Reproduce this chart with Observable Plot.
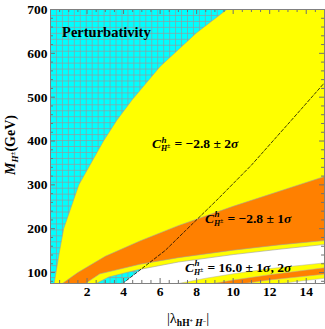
<!DOCTYPE html>
<html><head><meta charset="utf-8">
<script src="https://cdn.jsdelivr.net/npm/d3@7"></script>
<script src="https://cdn.jsdelivr.net/npm/@observablehq/plot@0.6"></script>
<style>body{margin:0;background:#fff}</style>
</head><body><div id="chart"></div>
<script>
// Boundary curves, as [|lambda|, M_H± (GeV)]
const dashedLine   = [[3.95,75],[5,109],[6.27,150],[7.4,196],[9.1,265],[11,345],[13.2,448],[15,533]];
const band2s_upper = [[0.2,75],[0.5,150],[0.72,200],[1.55,300],[2.9,400],[3.64,448],[4.47,494],[6.0,570],[8.0,647],[9.65,700]];
const band2s_lower = [[2.5,75],[3.2,90],[4.74,106],[7,124],[10,141],[12.5,153],[15,164]];
const band1s_upper = [[0.65,75],[1.5,100],[3,137],[4.9,172],[7,207],[10,251],[15,319]];
const band1s_lower = [[1.9,75],[2.7,97],[4.9,119],[7,134],[10,151],[12.5,163],[15,173]];
const c16_2s_upper = [[7.0,75],[8.5,87],[10,97],[12,109],[15,122]];
const c16_2s_lower = [[12.6,75],[15,87]];
const c16_1s_upper = [[8.9,75],[10,83],[12,95],[15,111]];
const c16_1s_lower = [[10.6,75],[12,83],[15,96]];

const xDomain = [0, 15];
const yDomain = [75, 700];
const xTicks = [2, 4, 6, 8, 10, 12, 14];
const yTicks = [100, 200, 300, 400, 500, 600, 700];

// label anchors [x, y] and texts
const labelPert = [0.66, 636];
const cLabels = [
  {pos: [5.58, 382], value: "\u22122.8", sig: ["2"]},
  {pos: [8.48, 212], value: "\u22122.8", sig: ["1"]},
  {pos: [7.39, 101], value: "16.0", sig: ["1", "2"]}
];

const CYAN = "#00ffff", YELLOW = "#ffff00", ORANGE = "#ff8000";

const poly = (...parts) => parts.flat();
const rev = a => a.slice().reverse();
const whitePoly  = poly(dashedLine, [[xDomain[1], yDomain[0]]]);
const yellowPoly = poly(band2s_upper, [[xDomain[1], yDomain[1]]], rev(band2s_lower));
const orangePoly = poly(band1s_upper, rev(band1s_lower));
const y16Poly = poly(c16_2s_upper, rev(c16_2s_lower));
const o16Poly = poly(c16_1s_upper, rev(c16_1s_lower));

const meshX = d3.range(1, 46).map(i => xDomain[0] + i * (xDomain[1] - xDomain[0]) / 46);
const meshY = d3.range(1, 46).map(i => yDomain[0] + i * (yDomain[1] - yDomain[0]) / 46);
const xMinor = d3.range(0.5, 15, 0.5).filter(v => v % 2 !== 0);
const yMinor = d3.range(80, 700, 20).filter(v => v % 100 !== 0);

const P = {x: d => d[0], y: d => d[1], clip: true};
const tickCol = "#707070";
const xl = 0.27, xs = 0.16, yl = 11.4, ys = 6.9;

const chart = Plot.plot({
  width: 325, height: 329,
  marginLeft: 50, marginRight: 1, marginTop: 9, marginBottom: 46,
  x: {domain: xDomain, ticks: xTicks, tickSize: 0, tickPadding: 3, label: null},
  y: {domain: yDomain, ticks: yTicks, tickSize: 0, tickPadding: 3, label: null},
  style: {fontFamily: "'Liberation Serif', serif", fontWeight: "bold", fontSize: "13.5px", color: "black", background: "white", overflow: "visible"},
  marks: [
    Plot.frame({fill: CYAN, stroke: "none"}),
    Plot.ruleX(meshX, {stroke: "#9a9a9a", strokeWidth: 0.7}),
    Plot.ruleY(meshY, {stroke: "#9a9a9a", strokeWidth: 0.7}),
    Plot.line(whitePoly, {...P, fill: "white", stroke: "none"}),
    Plot.line(yellowPoly, {...P, fill: YELLOW, stroke: "#a0a0a0", strokeWidth: 0.6}),
    Plot.line(orangePoly, {...P, fill: ORANGE, stroke: "#a0a0a0", strokeWidth: 0.6}),
    Plot.line(y16Poly, {...P, fill: YELLOW, stroke: "#b0b0b0", strokeWidth: 0.5}),
    Plot.line(o16Poly, {...P, fill: ORANGE, stroke: "#b0b0b0", strokeWidth: 0.5}),
    Plot.line(dashedLine, {...P, stroke: "black", strokeWidth: 0.75, strokeDasharray: "3,2"}),
    // frame ticks
    Plot.ruleX(xTicks, {x: d => d, y1: yDomain[0], y2: yDomain[0] + yl, stroke: tickCol}),
    Plot.ruleX(xMinor, {x: d => d, y1: yDomain[0], y2: yDomain[0] + ys, stroke: tickCol}),
    Plot.ruleX(xTicks, {x: d => d, y1: yDomain[1], y2: yDomain[1] - yl, stroke: tickCol}),
    Plot.ruleX(xMinor, {x: d => d, y1: yDomain[1], y2: yDomain[1] - ys, stroke: tickCol}),
    Plot.ruleY(yTicks, {y: d => d, x1: xDomain[0], x2: xDomain[0] + xl, stroke: tickCol}),
    Plot.ruleY(yMinor, {y: d => d, x1: xDomain[0], x2: xDomain[0] + xs, stroke: tickCol}),
    Plot.ruleY(yTicks, {y: d => d, x1: xDomain[1], x2: xDomain[1] - xl, stroke: tickCol}),
    Plot.ruleY(yMinor, {y: d => d, x1: xDomain[1], x2: xDomain[1] - xs, stroke: tickCol}),
    Plot.frame({stroke: "#808080", strokeWidth: 1})
  ]
});

const sx = chart.scale("x"), sy = chart.scale("y");
const svg = d3.select(chart);
const F = "'Liberation Serif', serif";

function txt(x, y, s, attrs) {
  const t = svg.append("text").attr("x", x).attr("y", y)
    .attr("font-family", F).attr("font-weight", "bold").attr("fill", "black")
    .attr("text-anchor", "start");
  for (const k in attrs || {}) t.attr(k, attrs[k]);
  if (s != null) t.text(s);
  return t;
}
function span(t, s, o) {
  const sp = t.append("tspan").text(s);
  for (const k in o || {}) sp.attr(k, o[k]);
  return sp;
}

// Perturbativity
txt(sx.apply(labelPert[0]), sy.apply(labelPert[1]), "Perturbativity", {"font-size": 14.5});

// C^h_{H±} labels
for (const L of cLabels) {
  const x0 = sx.apply(L.pos[0]), y0 = sy.apply(L.pos[1]);
  txt(x0, y0, "C", {"font-size": 13.5, "font-style": "italic"});
  txt(x0 + 9.5, y0 - 5.5, "h", {"font-size": 9, "font-style": "italic"});
  txt(x0 + 9, y0 + 3, "H", {"font-size": 8, "font-style": "italic"});
  txt(x0 + 15, y0, "±", {"font-size": 6});
  const t = txt(x0 + 22.5, y0, null, {"font-size": 13.5});
  span(t, "= " + L.value + " ± " + L.sig[0]);
  span(t, "σ", {"font-style": "italic"});
  if (L.sig.length > 1) { span(t, ", " + L.sig[1]); span(t, "σ", {"font-style": "italic"}); }
}

// x-axis title
{
  const t = txt((sx.apply(xDomain[0]) + sx.apply(xDomain[1])) / 2 + 1, 323, null, {"font-size": 14.5, "text-anchor": "middle"});
  span(t, "|λ", {"font-weight": "normal"});
  span(t, "hH", {"font-size": 9.5, dy: 3});
  span(t, "+", {"font-size": 6, dy: -3});
  span(t, " H", {"font-size": 9.5, "font-style": "italic", dy: 3});
  span(t, "\u2212", {"font-size": 6, dy: -3});
  span(t, "|", {"font-weight": "normal"});
}
// y-axis title
{
  const t = txt(0, 0, null, {"font-size": 14, "text-anchor": "middle", transform: "translate(15,145) rotate(-90)"});
  span(t, "M", {"font-style": "italic"});
  span(t, "H", {"font-size": 9, "font-style": "italic", dy: 3});
  span(t, "±", {"font-size": 7, dy: -3});
  span(t, "(GeV)", {});
}

document.getElementById("chart").appendChild(chart);
</script>
</body></html>
